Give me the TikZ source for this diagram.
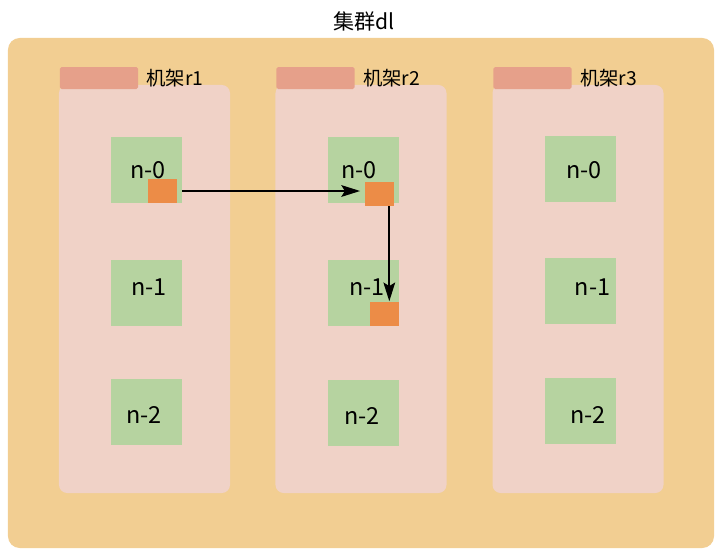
\documentclass[tikz,border=0pt]{standalone}
\usepackage{fontspec}
\setmainfont{Noto Sans CJK SC}
\usepackage{tikz}
\usetikzlibrary{arrows.meta, positioning, calc}
\definecolor{arena}{HTML}{F2CE92}
\definecolor{rosado}{HTML}{F0D2C7}
\definecolor{salmon}{HTML}{E6A08A}
\definecolor{verde}{HTML}{B6D3A0}
\definecolor{naranja}{HTML}{EC8C47}
\tikzset{
  every picture/.style={>=Stealth},
  clus/.style={fill=arena, rounded corners=10pt, inner sep=0, minimum width=21.18cm, minimum height=15.3cm},
  rack/.style={fill=rosado, rounded corners=7pt, inner sep=0, minimum width=5.13cm, minimum height=12.24cm},
  pest/.style={fill=salmon, rounded corners=1.5pt, inner sep=0, minimum width=2.35cm, minimum height=0.66cm},
  etiq/.style={anchor=west, inner sep=0, font=\fontsize{16.5}{18}\selectfont},
  titulo/.style={inner sep=0, font=\fontsize{18}{20}\selectfont},
  nodo/.style={fill=verde, inner sep=0, minimum width=2.13cm, minimum height=1.98cm},
  txt/.style={inner sep=0, font=\fontsize{20}{22}\selectfont},
  blq/.style={fill=naranja, inner sep=0, minimum width=0.87cm, minimum height=0.72cm},
  flecha/.style={-{Stealth[length=16pt, width=10pt, inset=3pt]}, line width=1.4pt, black},
}

\begin{document}
\begin{tikzpicture}[x=0.03cm, y=-0.03cm]
  \useasboundingbox (0,0) rectangle (722,554);
  \node[clus] (cluster) at (361,293) {};
  \node[titulo] (tit) at (364,21) {集群dl};
  % racks
  \foreach \r/\x in {1/144.5, 2/361, 3/578} {
    \node[rack] (rack\r) at (\x,289) {};
    \node[pest] (pest\r) at ($(\x,78)+(-45.5,0)$) {};
    \node[etiq, right=0.24cm of pest\r] (et\r) {机架r\r};
  }
  % nodos
  \foreach \r/\k/\x/\y/\dx/\dy in {1/0/146.5/170/1.5/0, 1/1/146.5/292.5/2.5/-5.5, 1/2/146.5/412/-2.5/3,
      2/0/363.5/170/-4.5/0, 2/1/363.5/293/3.5/-6, 2/2/363.5/413/-1.5/3,
      3/0/580.5/169/3.5/1, 3/1/580.5/291/12/-4, 3/2/580.5/411/7.5/4} {
    \node[nodo] (n\r\k) at (\x,\y) {};
    \node[txt] (t\r\k) at ($(n\r\k)+(\dx,\dy)$) {n-\k};
  }
  % bloques
  \node[blq] (sqa) at (162.5,191) {};
  \node[blq] (sqb) at (379.5,194) {};
  \node[blq] (sqc) at (384.5,313.5) {};
  \draw[flecha, shorten >=4pt] (n10.east |- sqa.east) -- (sqb.west |- sqa.east);
  \coordinate (pb) at ($(sqb.south)+(9.8,0)$);
  \draw[flecha] (pb) -- (pb |- sqc.north);
\end{tikzpicture}
\end{document}
